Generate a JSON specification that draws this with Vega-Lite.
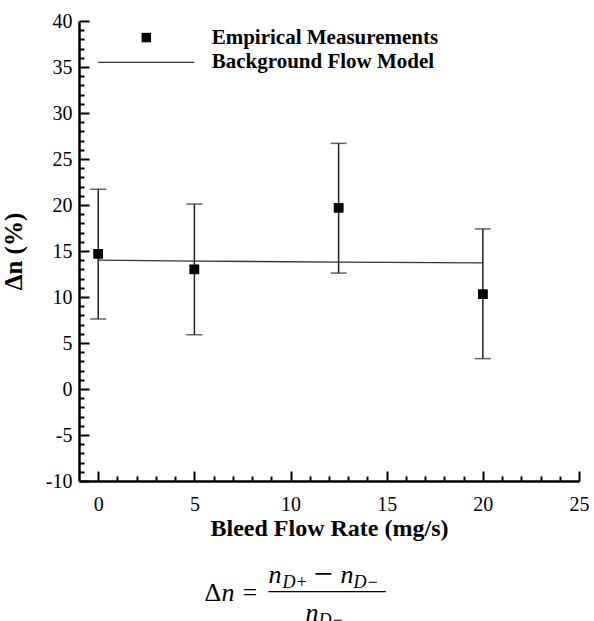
{
  "$schema": "https://vega.github.io/schema/vega-lite/v6.json",
  "width": 500,
  "height": 460,
  "autosize": "none",
  "padding": {"left": 79, "top": 21, "right": 15, "bottom": 140},
  "background": "white",
  "config": {
    "view": {"stroke": null},
    "font": "Liberation Serif",
    "axis": {
      "labelOverlap": false, "labelFlush": false, "labelBound": false, "grid": false,
      "tickWidth": 2, "tickColor": "black", "domainColor": "black", "domainWidth": 2.5,
      "labelFont": "Liberation Serif", "labelFontSize": 20, "labelColor": "black",
      "titleFont": "Liberation Serif", "titleFontWeight": "bold", "titleColor": "black"
    }
  },
  "datasets": {
    "measurements": [
      {"rate": 0, "dn": 14.7, "lower": 7.6, "upper": 21.7},
      {"rate": 5, "dn": 13.0, "lower": 5.9, "upper": 20.1},
      {"rate": 12.5, "dn": 19.7, "lower": 12.6, "upper": 26.7},
      {"rate": 20, "dn": 10.3, "lower": 3.3, "upper": 17.4}
    ],
    "model": [
      {"rate": 0, "dn": 14.0},
      {"rate": 5, "dn": 13.9},
      {"rate": 12.5, "dn": 13.8},
      {"rate": 20, "dn": 13.7}
    ],
    "legend_sym": [{"rate": 2.5, "dn": 38.2}],
    "legend_line": [{"rate": 0, "dn": 35.5}, {"rate": 5, "dn": 35.5}],
    "legend_text": [
      {"rate": 5.9, "dn": 38.2, "label": "Empirical Measurements"},
      {"rate": 5.9, "dn": 35.5, "label": "Background Flow Model"}
    ],
    "formula_upright": [
      {"rate": 5.52, "dn": -23.0, "t": "Δ"},
      {"rate": 7.5, "dn": -23.0, "t": "="}
    ],
    "formula_minus": [
      {"rate": 11.2, "dn": -21.35, "t": "−"}
    ],
    "formula_italic": [
      {"rate": 6.41, "dn": -23.0, "t": "n"},
      {"rate": 8.85, "dn": -21.09, "t": "n"},
      {"rate": 12.6, "dn": -21.09, "t": "n"},
      {"rate": 10.78, "dn": -25.2, "t": "n"}
    ],
    "formula_sub": [
      {"rate": 9.58, "dn": -21.63, "t": "D+"},
      {"rate": 13.28, "dn": -21.63, "t": "D−"},
      {"rate": 11.46, "dn": -25.76, "t": "D−"}
    ],
    "formula_bar": [{"rate": 8.85, "rate2": 14.95, "dn": -22.03}]
  },
  "layer": [
    {
      "data": {"name": "measurements"},
      "mark": {"type": "point", "shape": "square", "filled": true, "size": 90, "color": "black", "opacity": 1},
      "encoding": {
        "x": {
          "field": "rate", "type": "quantitative",
          "scale": {"domain": [-1, 25], "nice": false, "zero": false},
          "axis": {
            "title": "Bleed Flow Rate (mg/s)",
            "values": [0,1,2,3,4,5,6,7,8,9,10,11,12,13,14,15,16,17,18,19,20,21,22,23,24,25],
            "tickCount": 200,
            "labelExpr": "datum.value % 5 === 0 ? '' + datum.value : ''",
            "tickSize": {"condition": {"test": "datum.value % 5 === 0", "value": -10}, "value": -5},
            "labelPadding": 23, "labelOverlap": false,
            "titleFontSize": 24, "titlePadding": -3
          }
        },
        "y": {
          "field": "dn", "type": "quantitative",
          "title": "Δn (%)",
          "scale": {"domain": [-10, 40], "nice": false, "zero": false},
          "axis": {
            "title": "Δn (%)",
            "values": [-10,-9,-8,-7,-6,-5,-4,-3,-2,-1,0,1,2,3,4,5,6,7,8,9,10,11,12,13,14,15,16,17,18,19,20,21,22,23,24,25,26,27,28,29,30,31,32,33,34,35,36,37,38,39,40],
            "tickCount": 200,
            "labelExpr": "datum.value % 5 === 0 ? '' + datum.value : ''",
            "tickSize": {"condition": {"test": "datum.value % 5 === 0", "value": -10}, "value": -5},
            "labelPadding": 17, "labelOverlap": false,
            "titleFontSize": 25, "titlePadding": 19
          }
        }
      }
    },
    {
      "data": {"name": "measurements"},
      "mark": {
        "type": "errorbar",
        "rule": {"strokeWidth": 1.5, "color": "#222"},
        "ticks": {"size": 16, "thickness": 1.5, "color": "#222"}
      },
      "encoding": {
        "x": {"field": "rate", "type": "quantitative"},
        "y": {"field": "lower", "type": "quantitative", "title": "Δn (%)"},
        "y2": {"field": "upper"}
      }
    },
    {
      "data": {"name": "model"},
      "mark": {"type": "line", "color": "#333", "strokeWidth": 1.3},
      "encoding": {
        "x": {"field": "rate", "type": "quantitative"},
        "y": {"field": "dn", "type": "quantitative"}
      }
    },
    {
      "data": {"name": "measurements"},
      "mark": {"type": "point", "shape": "square", "filled": true, "size": 90, "color": "black", "opacity": 1},
      "encoding": {
        "x": {"field": "rate", "type": "quantitative"},
        "y": {"field": "dn", "type": "quantitative"}
      }
    },
    {
      "data": {"name": "legend_sym"},
      "mark": {"type": "point", "shape": "square", "filled": true, "size": 90, "color": "black", "opacity": 1},
      "encoding": {
        "x": {"field": "rate", "type": "quantitative"},
        "y": {"field": "dn", "type": "quantitative"}
      }
    },
    {
      "data": {"name": "legend_line"},
      "mark": {"type": "line", "color": "#333", "strokeWidth": 1.3},
      "encoding": {
        "x": {"field": "rate", "type": "quantitative"},
        "y": {"field": "dn", "type": "quantitative"}
      }
    },
    {
      "data": {"name": "legend_text"},
      "mark": {"type": "text", "align": "left", "baseline": "middle", "font": "Liberation Serif", "fontSize": 21, "fontWeight": "bold", "color": "black"},
      "encoding": {
        "x": {"field": "rate", "type": "quantitative"},
        "y": {"field": "dn", "type": "quantitative"},
        "text": {"field": "label"}
      }
    },
    {
      "data": {"name": "formula_upright"},
      "mark": {"type": "text", "align": "left", "baseline": "alphabetic", "font": "Liberation Serif", "fontSize": 26, "color": "black"},
      "encoding": {
        "x": {"field": "rate", "type": "quantitative"},
        "y": {"field": "dn", "type": "quantitative"},
        "text": {"field": "t"}
      }
    },
    {
      "data": {"name": "formula_minus"},
      "mark": {"type": "text", "align": "left", "baseline": "alphabetic", "font": "Liberation Serif", "fontSize": 34, "color": "black"},
      "encoding": {
        "x": {"field": "rate", "type": "quantitative"},
        "y": {"field": "dn", "type": "quantitative"},
        "text": {"field": "t"}
      }
    },
    {
      "data": {"name": "formula_italic"},
      "mark": {"type": "text", "align": "left", "baseline": "alphabetic", "font": "Liberation Serif", "fontSize": 26, "fontStyle": "italic", "color": "black"},
      "encoding": {
        "x": {"field": "rate", "type": "quantitative"},
        "y": {"field": "dn", "type": "quantitative"},
        "text": {"field": "t"}
      }
    },
    {
      "data": {"name": "formula_sub"},
      "mark": {"type": "text", "align": "left", "baseline": "alphabetic", "font": "Liberation Serif", "fontSize": 18, "fontStyle": "italic", "color": "black"},
      "encoding": {
        "x": {"field": "rate", "type": "quantitative"},
        "y": {"field": "dn", "type": "quantitative"},
        "text": {"field": "t"}
      }
    },
    {
      "data": {"name": "formula_bar"},
      "mark": {"type": "rule", "color": "black", "strokeWidth": 1.3},
      "encoding": {
        "x": {"field": "rate", "type": "quantitative"},
        "x2": {"field": "rate2"},
        "y": {"field": "dn", "type": "quantitative"}
      }
    }
  ]
}
